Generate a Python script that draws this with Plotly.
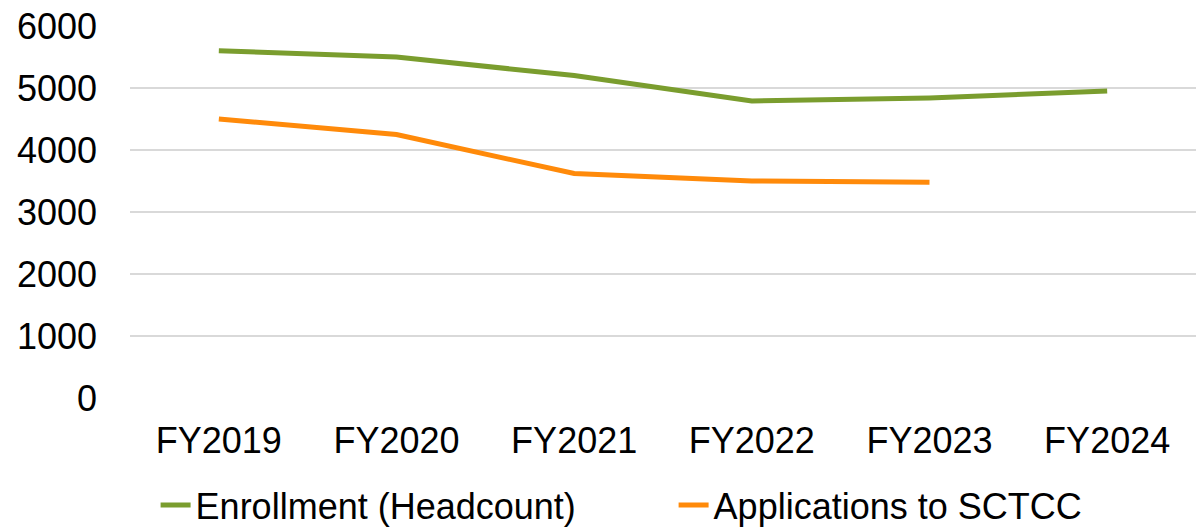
import plotly.graph_objects as go

categories = ["FY2019", "FY2020", "FY2021", "FY2022", "FY2023", "FY2024"]
enrollment = [5600, 5500, 5200, 4790, 4840, 4950]
applications = [4500, 4250, 3620, 3500, 3480, None]
y_ticks = [0, 1000, 2000, 3000, 4000, 5000, 6000]

FONT = "Liberation Sans, Arial, sans-serif"

fig = go.Figure()
fig.add_trace(go.Scatter(x=categories, y=enrollment, mode="lines",
                         name="Enrollment (Headcount)",
                         line=dict(color="#7A9D2E", width=5)))
fig.add_trace(go.Scatter(x=categories, y=applications, mode="lines",
                         name="Applications to SCTCC",
                         line=dict(color="#FF8A0A", width=5)))

fig.update_layout(
    width=1196, height=527,
    margin=dict(l=130, r=0, t=26, b=129, autoexpand=False),
    paper_bgcolor="white", plot_bgcolor="white",
    font=dict(family=FONT, size=36, color="#000000"),
    showlegend=True,
    legend=dict(orientation="h", xref="container", yref="paper",
                x=155.6 / 1196, xanchor="left", y=-0.2876, yanchor="middle",
                font=dict(size=36), entrywidth=473, entrywidthmode="pixels",
                bgcolor="rgba(0,0,0,0)"),
)
fig.update_xaxes(type="category", range=[-0.5, 5.5], showgrid=False,
                 showline=False, zeroline=False, ticks="", automargin=False,
                 ticklabelstandoff=18,
                 tickfont=dict(size=36, family=FONT))
fig.update_yaxes(range=[0, 6000], tickvals=y_ticks, showgrid=True,
                 gridcolor="#D9D9D9", gridwidth=1.5, zeroline=False,
                 showline=False, ticks="", automargin=False,
                 ticklabelstandoff=32,
                 tickfont=dict(size=36, family=FONT))

fig.write_html("out.html",
               config={"displayModeBar": False},
               post_script="document.body.style.margin='0';document.body.style.padding='0';")
